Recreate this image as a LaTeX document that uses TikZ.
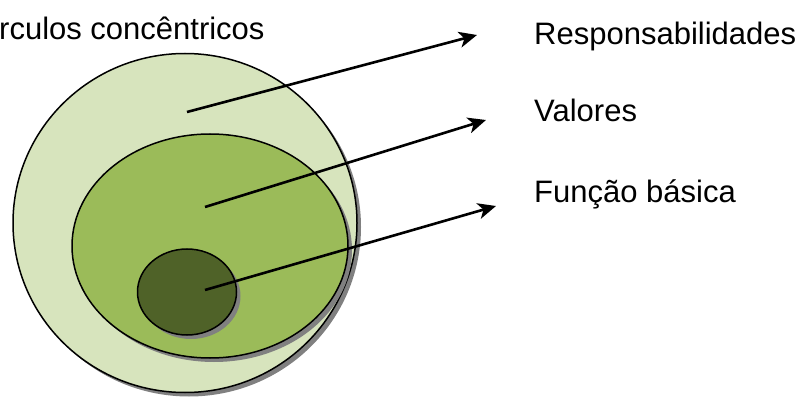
\documentclass[tikz,border=0pt]{standalone}
\usepackage{fontspec}
\setmainfont{Liberation Sans}
\usetikzlibrary{arrows.meta,shapes.geometric,shadows}
\definecolor{ringout}{RGB}{215,228,189}
\definecolor{ringmid}{RGB}{155,187,89}
\definecolor{ringcore}{RGB}{79,98,40}
\definecolor{shade}{RGB}{128,128,128}

\begin{document}
\begin{tikzpicture}[x=1pt,y=-1pt,
  ring/.style={ellipse,draw=black,line width=1.5pt,inner sep=0pt,
    drop shadow={shadow xshift=4pt,shadow yshift=-4pt,fill=shade,opacity=1}},
  lbl/.style={anchor=base west,inner sep=0pt,font=\fontsize{31}{36}\selectfont},
  pointer/.style={-{Stealth[length=18pt,width=16pt,inset=5pt]},line width=2.6pt}]
  \useasboundingbox (0,0) rectangle (809,398);
  % circles, outside in
  \node[ring,fill=ringout,minimum width=344pt,minimum height=339pt] (outer) at (185,223) {};
  \node[ring,fill=ringmid,minimum width=276pt,minimum height=224pt] (middle) at (210,246) {};
  \node[ring,fill=ringcore,minimum width=99pt,minimum height=86pt] (core) at (187,292) {};
  % texts
  \node[lbl] (title) at (-1,40) {rculos concêntricos};
  \node[lbl] (resp) at (534,45) {Responsabilidades};
  \node[lbl] (val) at (534,122) {Valores};
  \node[lbl] (func) at (534,203) {Função básica};
  % arrows
  \coordinate (startR) at (187,112); \coordinate (tipR) at (477,35);
  \coordinate (startV) at (205,207); \coordinate (tipV) at (486,120);
  \coordinate (startF) at (205,290); \coordinate (tipF) at (496,206);
  \foreach \a in {R,V,F} {\draw[pointer] (start\a) -- (tip\a);}
\end{tikzpicture}
\end{document}
